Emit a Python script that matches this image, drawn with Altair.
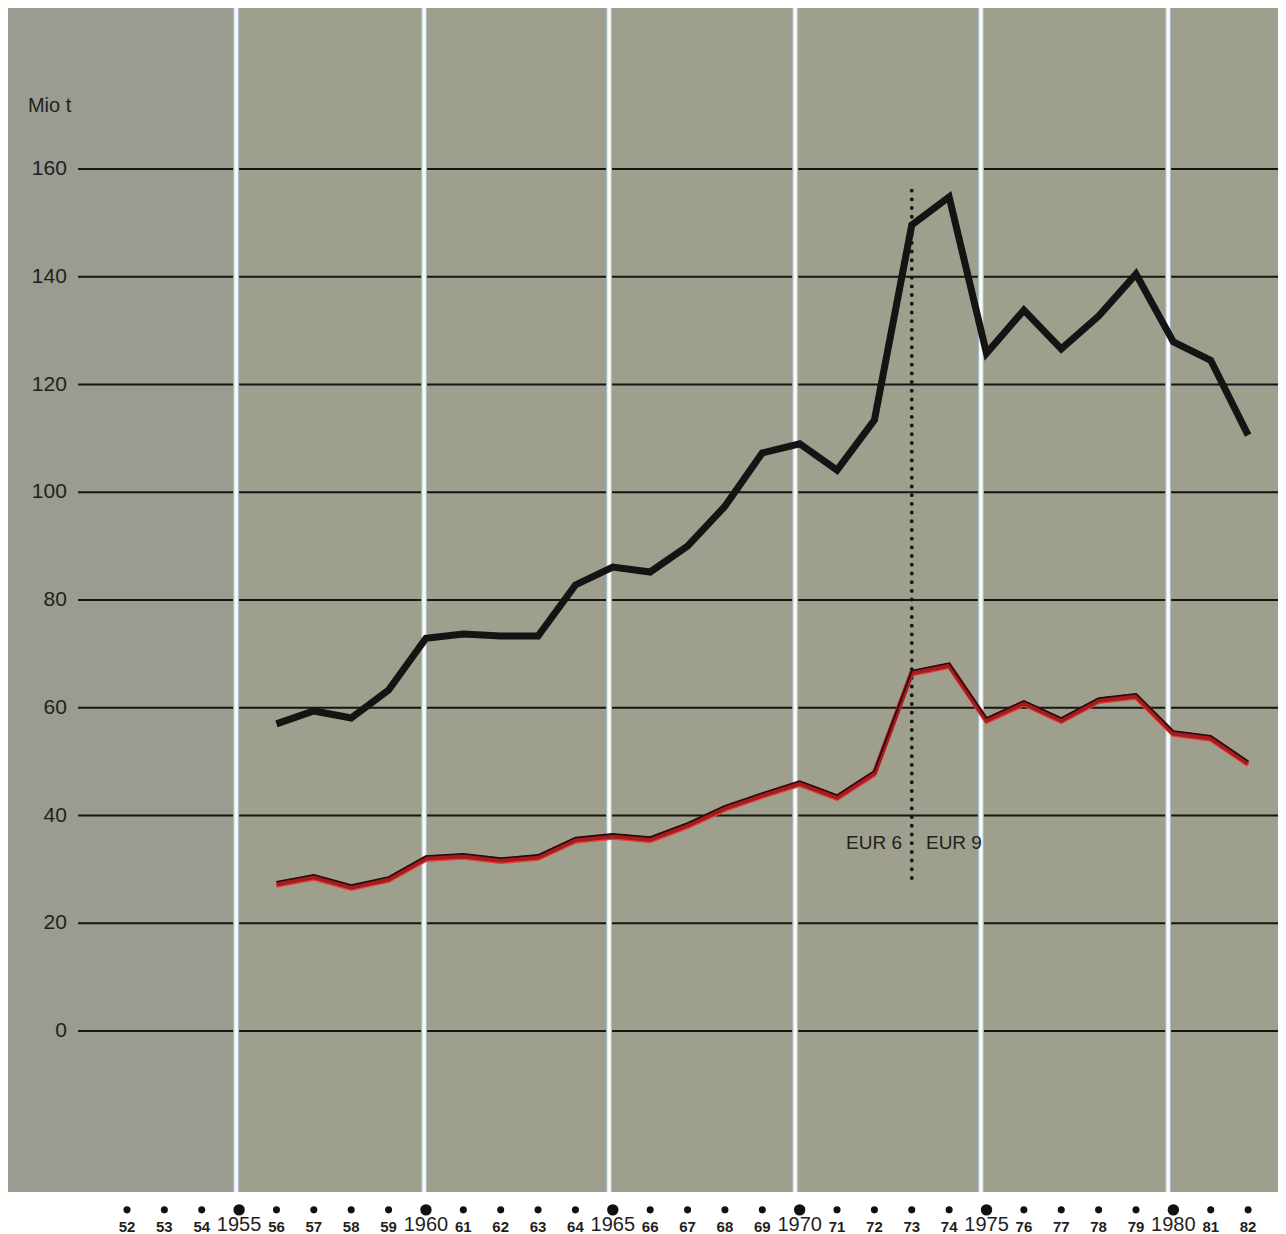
import altair as alt
import pandas as pd

# ---------------- data ----------------
years = list(range(1956, 1983))
black_vals = [57.0, 59.4, 58.1, 63.3, 72.9, 73.7, 73.3, 73.3, 82.8, 86.1, 85.2, 90.0,
              97.4, 107.3, 109.0, 104.1, 113.4, 149.6, 154.8, 125.8, 133.8, 126.6,
              132.7, 140.5, 127.9, 124.5, 110.6]
red_vals = [27.3, 28.6, 26.7, 28.2, 32.1, 32.5, 31.7, 32.3, 35.5, 36.2, 35.6, 38.2,
            41.4, 43.8, 46.0, 43.4, 47.9, 66.5, 67.9, 57.7, 60.9, 57.7, 61.4, 62.2,
            55.3, 54.4, 49.7]
grid_vals = [0, 20, 40, 60, 80, 100, 120, 140, 160]
grid_labels = ["0", "20", "40", "60", "80", "100", "120", "140", "160"]
decade_years = [1955, 1960, 1965, 1970, 1975, 1980]
# printed panel divisions (white strips) sit just before each decade mark
panel_breaks = [1954.92, 1959.95, 1964.90, 1969.88, 1974.85, 1979.86]
tick_years = list(range(1952, 1983))
small_years = [y for y in tick_years if y not in decade_years]
small_labels = [str(y % 100) for y in small_years]
decade_labels = [str(y) for y in decade_years]

X_DOMAIN = [1948.816, 1982.800]
Y_DOMAIN = [-29.884, 189.884]
GRID_X = [1950.69, 1982.800]
LABEL_X = 1950.39
UNIT_POS = (1949.35, 171.7)
BOUNDARY_X = 1973.0
BOUNDARY_Y = [28.4, 157.4]
EUR_Y = 34.9
EUR6_X = 1972.74
EUR9_X = 1973.38
DOT_Y = -33.2
SMALL_LAB_Y = -36.4
BIG_LAB_Y = -36.0

FONT = "Liberation Sans"
TXT = "#1f1f1f"

xs = alt.Scale(domain=X_DOMAIN, nice=False, zero=False)
ys = alt.Scale(domain=Y_DOMAIN, nice=False, zero=False)

def X(f, **kw):
    return alt.X(f, type="quantitative", scale=xs, axis=None, **kw)

def Y(f, **kw):
    return alt.Y(f, type="quantitative", scale=ys, axis=None, **kw)

# left (pre-1955) panel, slightly greyer
left_df = pd.DataFrame({"x": [X_DOMAIN[0]], "x2": [panel_breaks[0]],
                        "y": [Y_DOMAIN[0]], "y2": [Y_DOMAIN[1]]})
left_panel = alt.Chart(left_df).mark_rect(color="#9a9b91").encode(
    x=X("x"), x2="x2", y=Y("y"), y2="y2")

# horizontal grid
grid_df = pd.DataFrame({"v": grid_vals, "lab": grid_labels,
                        "x": [GRID_X[0]] * len(grid_vals), "x2": [GRID_X[1]] * len(grid_vals),
                        "lx": [LABEL_X] * len(grid_vals)})
grid = alt.Chart(grid_df).mark_rule(color="#151515", strokeWidth=2).encode(
    x=X("x"), x2="x2", y=Y("v"))
grid_text = alt.Chart(grid_df).mark_text(align="right", baseline="middle", font=FONT,
                                         fontSize=21, color=TXT).encode(
    x=X("lx"), y=Y("v"), text="lab:N")

unit_df = pd.DataFrame({"x": [UNIT_POS[0]], "y": [UNIT_POS[1]], "t": ["Mio  t"]})
unit_text = alt.Chart(unit_df).mark_text(align="left", baseline="middle", font=FONT,
                                         fontSize=20, color=TXT).encode(
    x=X("x"), y=Y("y"), text="t:N")

# white vertical strips
vdf = pd.DataFrame({"yr": panel_breaks, "y": [Y_DOMAIN[0]] * 6, "y2": [Y_DOMAIN[1]] * 6})
vlines_blue = alt.Chart(vdf).mark_rule(color="#a9bccb", strokeWidth=6).encode(
    x=X("yr"), y=Y("y"), y2="y2")
vlines = alt.Chart(vdf).mark_rule(color="#fbfbf5", strokeWidth=3.5).encode(
    x=X("yr"), y=Y("y"), y2="y2")

# EUR6 / EUR9 boundary
bdf = pd.DataFrame({"x": [BOUNDARY_X], "y": [BOUNDARY_Y[0]], "y2": [BOUNDARY_Y[1]]})
boundary = alt.Chart(bdf).mark_rule(color="#151515", strokeWidth=3.8, strokeCap="round",
                                    strokeDash=[0.1, 8.6]).encode(
    x=X("x"), y=Y("y"), y2="y2")
eur_df = pd.DataFrame({"x": [EUR6_X, EUR9_X], "y": [EUR_Y, EUR_Y], "t": ["EUR 6", "EUR 9"]})
eur6 = alt.Chart(eur_df.iloc[[0]]).mark_text(align="right", baseline="middle", font=FONT,
                                             fontSize=19, color=TXT).encode(
    x=X("x"), y=Y("y"), text="t:N")
eur9 = alt.Chart(eur_df.iloc[[1]]).mark_text(align="left", baseline="middle", font=FONT,
                                             fontSize=19, color=TXT).encode(
    x=X("x"), y=Y("y"), text="t:N")

# series
sdf = pd.DataFrame({"yr": years, "black": black_vals, "red": red_vals})
black_line = alt.Chart(sdf).mark_line(color="#141414", strokeWidth=7, strokeJoin="miter").encode(
    x=X("yr"), y=Y("black"))
red_edge = alt.Chart(sdf).mark_line(color="#e8403a", strokeWidth=4, strokeJoin="miter",
                                    yOffset=1.9).encode(x=X("yr"), y=Y("red"))
red_core = alt.Chart(sdf).mark_line(color="#a31c20", strokeWidth=5, strokeJoin="miter",
                                    yOffset=0.0).encode(x=X("yr"), y=Y("red"))
red_top = alt.Chart(sdf).mark_line(color="#2a0a0a", strokeWidth=1.6, strokeJoin="miter",
                                   yOffset=-2.1).encode(x=X("yr"), y=Y("red"))

# x "axis": dots and year labels below the panel
sm_df = pd.DataFrame({"yr": small_years, "lab": small_labels,
                      "dy": [DOT_Y] * len(small_years), "ly": [SMALL_LAB_Y] * len(small_years)})
bg_df = pd.DataFrame({"yr": decade_years, "lab": decade_labels,
                      "dy": [DOT_Y] * 6, "ly": [BIG_LAB_Y] * 6})
small_dots = alt.Chart(sm_df).mark_circle(size=50, color="#111", opacity=1).encode(
    x=X("yr"), y=Y("dy"))
big_dots = alt.Chart(bg_df).mark_circle(size=130, color="#111", opacity=1).encode(
    x=X("yr"), y=Y("dy"))
small_text = alt.Chart(sm_df).mark_text(baseline="middle", font=FONT, fontSize=15,
                                        fontWeight="bold", color=TXT).encode(
    x=X("yr"), y=Y("ly"), text="lab:N")
big_text = alt.Chart(bg_df).mark_text(baseline="middle", font=FONT, fontSize=20,
                                      color=TXT).encode(
    x=X("yr"), y=Y("ly"), text="lab:N")

chart = alt.layer(
    left_panel, grid, vlines_blue, vlines, grid_text, unit_text, boundary, eur6, eur9,
    black_line, red_edge, red_core, red_top, small_dots, big_dots, small_text, big_text
).properties(
    width=1270, height=1184,
    autosize=alt.AutoSizeParams(type="none"),
    padding={"left": 0, "top": 0, "right": 0, "bottom": 42},
    background="white",
).configure_view(fill="#9e9f8d", stroke=None)

chart.save("out.html", embed_options={"renderer": "svg", "actions": False})
